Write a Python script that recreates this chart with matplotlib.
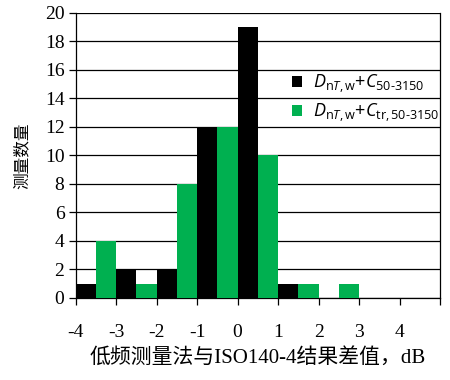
import matplotlib
matplotlib.use("Agg")
import matplotlib.pyplot as plt
import numpy as np

# category left edges (dB difference bins)
bin_left = [-4, -3, -2, -1, 0, 1, 2, 3, 4]
black_counts = [1, 2, 2, 12, 19, 1, 0, 0, 0]
green_counts = [4, 1, 8, 12, 10, 1, 1, 0, 0]
xtick_vals = [-4, -3, -2, -1, 0, 1, 2, 3, 4, 5]
xtick_labels = ["-4", "-3", "-2", "-1", "0", "1", "2", "3", "4", ""]
yticks = list(range(0, 21, 2))

plt.rcParams['mathtext.fontset'] = 'custom'
plt.rcParams['mathtext.rm'] = 'Open Sans'
plt.rcParams['mathtext.it'] = 'Open Sans:italic'
plt.rcParams['mathtext.bf'] = 'Open Sans:bold'

fig = plt.figure(figsize=(4.5, 3.8), dpi=100)
ax = fig.add_axes([0.168, 0.216, 0.81, 0.75])

x = np.array(bin_left, dtype=float)
ax.bar(x, black_counts, width=0.5, align='edge', color='#000000', zorder=3,
       label=r'$D_{\mathrm{n}T\mathrm{,w}}\mathrm{+}C_{\mathrm{50\text{-}3150}}$')
ax.bar(x + 0.5, green_counts, width=0.5, align='edge', color='#00B050', zorder=3,
       label=r'$D_{\mathrm{n}T\mathrm{,w}}\mathrm{+}C_{\mathrm{tr,50\text{-}3150}}$')

ax.set_xlim(-4, 5)
ax.set_ylim(0, 20)
ax.set_yticks(yticks)
ax.set_xticks(xtick_vals)
ax.set_xticklabels(xtick_labels)
ax.yaxis.grid(True, color='#000000', linewidth=0.9, zorder=0)
ax.set_axisbelow(True)

for s in ['left', 'bottom', 'right']:
    ax.spines[s].set_color('#000000')
    ax.spines[s].set_linewidth(0.9)
ax.spines['top'].set_visible(False)

serif = ['Liberation Serif', 'DejaVu Serif']
ax.tick_params(axis='both', direction='out', length=5, width=0.9, colors='#000000')
ax.tick_params(axis='x', pad=14)
ax.tick_params(axis='y', pad=3)
for lab in ax.get_xticklabels() + ax.get_yticklabels():
    lab.set_fontfamily(serif)
    lab.set_fontsize(14)

ax.set_ylabel('测量数量', family=['Noto Sans CJK SC', 'DejaVu Sans'], fontsize=12, labelpad=10)
ax.set_xlabel('低频测量法与ISO140-4结果差值，dB', family=['Liberation Serif', 'Noto Sans CJK SC'],
              fontsize=15, labelpad=5)

leg = ax.legend(loc='upper left', bbox_to_anchor=(0.648, 0.81), bbox_transform=fig.transFigure,
                frameon=False, fontsize=13, handlelength=0.6, handleheight=0.6,
                handletextpad=0.6, labelspacing=0.35, borderaxespad=0, borderpad=0)
leg.set_zorder(5)

fig.savefig('out.png', dpi=100)
